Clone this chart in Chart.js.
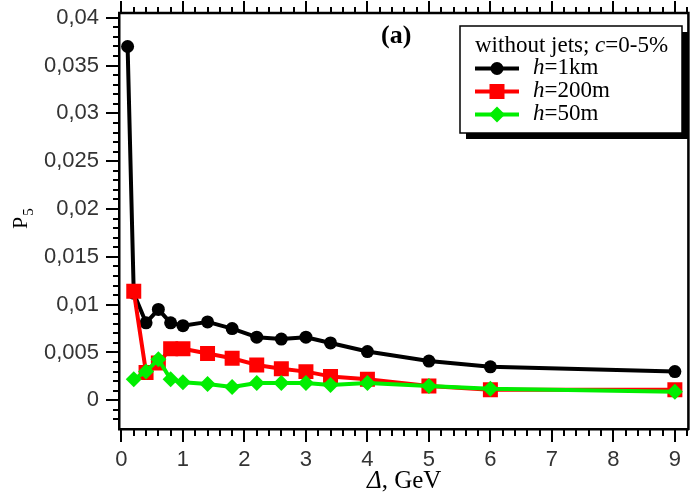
<!DOCTYPE html>
<html><head><meta charset="utf-8">
<script src="https://cdn.jsdelivr.net/npm/chart.js@4/dist/chart.umd.min.js"></script>
<style>html,body{margin:0;padding:0;background:#fff;} canvas{display:block;}</style>
</head><body>
<canvas id="c" width="699" height="496"></canvas>
<script>
// ---- data ----
const deltaH1km  = [0.1, 0.2, 0.4, 0.6, 0.8, 1.0, 1.4, 1.8, 2.2, 2.6, 3.0, 3.4, 4, 5, 6, 9];
const p5H1km     = [0.037, 0.0112, 0.0081, 0.0095, 0.0081, 0.0078, 0.0082, 0.0075, 0.0066, 0.0064, 0.0066, 0.0060, 0.0051, 0.0041, 0.0035, 0.0030];
const deltaH200m = [0.2, 0.4, 0.6, 0.8, 1.0, 1.4, 1.8, 2.2, 2.6, 3.0, 3.4, 4, 5, 6, 9];
const p5H200m    = [0.0114, 0.0029, 0.0039, 0.0054, 0.0054, 0.0049, 0.0044, 0.0037, 0.0033, 0.0030, 0.0025, 0.0022, 0.0015, 0.0011, 0.0011];
const deltaH50m  = [0.2, 0.4, 0.6, 0.8, 1.0, 1.4, 1.8, 2.2, 2.6, 3.0, 3.4, 4, 5, 6, 9];
const p5H50m     = [0.0022, 0.0030, 0.0043, 0.0022, 0.0019, 0.0017, 0.0014, 0.0018, 0.0018, 0.0018, 0.0016, 0.0018, 0.0015, 0.0012, 0.0009];

const yTickValues = [0, 0.005, 0.01, 0.015, 0.02, 0.025, 0.03, 0.035, 0.04];
const yTickLabels = ['0', '0,005', '0,01', '0,015', '0,02', '0,025', '0,03', '0,035', '0,04'];
const xTickValues = [0, 1, 2, 3, 4, 5, 6, 7, 8, 9];
const xTickLabels = ['0', '1', '2', '3', '4', '5', '6', '7', '8', '9'];
const seriesNames = ['h=1km', 'h=200m', 'h=50m'];
const legendTitle = ['without jets; ', 'c', '=0-5%'];
const panelLabel = '(a)';
const xTitle = ['\u0394', ', GeV'];
const yTitle = ['P', '5'];

const colors = ['#000000', '#ff0000', '#00ee00'];
const styles = ['circle', 'rect', 'rectRot'];

function pts(xs, ys) { return xs.map((x, i) => ({ x: x, y: ys[i] })); }

const SERIF = '"Liberation Serif", "DejaVu Serif", serif';
const SANS = '"Liberation Sans", Arial, sans-serif';

function drawMarker(ctx, style, x, y, color) {
  ctx.fillStyle = color;
  ctx.beginPath();
  if (style === 'circle') { ctx.arc(x, y, 6.5, 0, Math.PI * 2); }
  else if (style === 'rect') { ctx.rect(x - 7.5, y - 7.5, 15, 15); }
  else { ctx.moveTo(x, y - 8); ctx.lineTo(x + 8, y); ctx.lineTo(x, y + 8); ctx.lineTo(x - 8, y); ctx.closePath(); }
  ctx.fill();
}

const decor = {
  id: 'decor',
  afterDraw(chart) {
    const ctx = chart.ctx;
    const a = chart.chartArea;
    const xs = chart.scales.x, ys = chart.scales.y;
    ctx.save();
    // frame top & right
    ctx.strokeStyle = '#000';
    ctx.lineWidth = 2.5;
    ctx.beginPath();
    ctx.moveTo(a.left - 1, a.top); ctx.lineTo(a.right, a.top); ctx.lineTo(a.right, a.bottom + 1);
    ctx.stroke();
    // ticks
    ctx.lineWidth = 2;
    ctx.beginPath();
    for (let i = -3; i <= 40; i++) {
      const py = Math.round(ys.getPixelForValue(i / 1000)) + 0.0;
      if (py > a.bottom - 1 || py < a.top) continue;
      const len = (i % 5 === 0) ? 13 : 6;
      ctx.moveTo(a.left, py); ctx.lineTo(a.left - len, py);
    }
    for (let i = 0; i <= 46; i++) {
      const px = Math.round(xs.getPixelForValue(i / 5));
      if (px > a.right - 1 || px < a.left) continue;
      const major = (i % 5 === 0);
      ctx.moveTo(px, a.bottom); ctx.lineTo(px, a.bottom + (major ? 13 : 7));
      ctx.moveTo(px, a.top); ctx.lineTo(px, a.top - (major ? 12 : 6));
    }
    ctx.stroke();

    // panel label
    ctx.fillStyle = '#000';
    ctx.font = 'bold 26px ' + SERIF;
    ctx.textAlign = 'left';
    ctx.textBaseline = 'alphabetic';
    ctx.fillText(panelLabel, 381, 43);

    // legend box with shadow
    const bx = 460, by = 26, bw = 222, bh = 107;
    ctx.fillStyle = '#000';
    ctx.fillRect(bx + 6, by + 6, bw, bh);
    ctx.fillStyle = '#fff';
    ctx.fillRect(bx, by, bw, bh);
    ctx.strokeStyle = '#000';
    ctx.lineWidth = 1.5;
    ctx.strokeRect(bx, by, bw, bh);

    ctx.fillStyle = '#000';
    let tx = 475;
    const tb = 51.5;
    const LF = 23;
    ctx.font = LF + 'px ' + SERIF;
    ctx.fillText(legendTitle[0], tx, tb); tx += ctx.measureText(legendTitle[0]).width;
    ctx.font = 'italic ' + LF + 'px ' + SERIF;
    ctx.fillText(legendTitle[1], tx, tb); tx += ctx.measureText(legendTitle[1]).width;
    ctx.font = LF + 'px ' + SERIF;
    ctx.fillText(legendTitle[2], tx, tb);

    const rows = [68.5, 91.5, 114.5];
    for (let k = 0; k < 3; k++) {
      const ry = rows[k];
      ctx.strokeStyle = colors[k];
      ctx.lineWidth = 4;
      ctx.beginPath(); ctx.moveTo(475, ry); ctx.lineTo(519, ry); ctx.stroke();
      drawMarker(ctx, styles[k], 497, ry, colors[k]);
      ctx.fillStyle = '#000';
      let sx = 533;
      ctx.font = 'italic ' + LF + 'px ' + SERIF;
      const first = seriesNames[k].charAt(0), rest = seriesNames[k].slice(1);
      ctx.fillText(first, sx, ry + 5.5); sx += ctx.measureText(first).width;
      ctx.font = LF + 'px ' + SERIF;
      ctx.fillText(rest, sx, ry + 5.5);
    }

    // x title
    ctx.fillStyle = '#000';
    let xx = 367;
    ctx.font = 'italic 25px ' + SERIF;
    ctx.fillText(xTitle[0], xx, 488); xx += ctx.measureText(xTitle[0]).width;
    ctx.font = '25px ' + SERIF;
    ctx.fillText(xTitle[1], xx, 488);

    // y title
    ctx.save();
    ctx.translate(27, 229);
    ctx.rotate(-Math.PI / 2);
    ctx.font = '22px ' + SERIF;
    ctx.fillText(yTitle[0], 0, 0);
    const pw = ctx.measureText(yTitle[0]).width;
    ctx.font = '15px ' + SERIF;
    ctx.fillText(yTitle[1], pw + 1, 6);
    ctx.restore();

    ctx.restore();
  }
};

function noPad(s) { s.paddingTop = 0; s.paddingBottom = 0; s.paddingLeft = 0; s.paddingRight = 0; }

new Chart(document.getElementById('c').getContext('2d'), {
  type: 'line',
  data: {
    datasets: [
      { label: seriesNames[0], data: pts(deltaH1km, p5H1km), borderColor: colors[0], backgroundColor: colors[0],
        pointBackgroundColor: colors[0], borderWidth: 4, pointStyle: 'circle', pointRadius: 6.5, pointBorderWidth: 0, order: 3 },
      { label: seriesNames[1], data: pts(deltaH200m, p5H200m), borderColor: colors[1], backgroundColor: colors[1],
        pointBackgroundColor: colors[1], borderWidth: 4, pointStyle: 'rect', pointRadius: 10.6, pointBorderWidth: 0, order: 2 },
      { label: seriesNames[2], data: pts(deltaH50m, p5H50m), borderColor: colors[2], backgroundColor: colors[2],
        pointBackgroundColor: colors[2], borderWidth: 4, pointStyle: 'rectRot', pointRadius: 8, pointBorderWidth: 0, order: 1 }
    ]
  },
  options: {
    responsive: false,
    animation: false,
    devicePixelRatio: 1,
    layout: { padding: { top: 13, right: 4, left: 0, bottom: 0 } },
    elements: { line: { tension: 0, borderJoinStyle: 'round' } },
    plugins: { legend: { display: false }, tooltip: { enabled: false } },
    scales: {
      x: {
        type: 'linear', min: -0.04, max: 9.22,
        afterBuildTicks: s => { s.ticks = xTickValues.map(v => ({ value: v })); },
        ticks: { callback: (v, i) => xTickLabels[i], font: { family: SANS, size: 22 }, color: '#333', padding: 18, maxRotation: 0, autoSkip: false },
        grid: { display: false, drawTicks: false },
        border: { display: true, color: '#000', width: 2.5 },
        afterFit: s => { s.height = 67; noPad(s); }
      },
      y: {
        type: 'linear', min: -0.003, max: 0.0405,
        afterBuildTicks: s => { s.ticks = yTickValues.map(v => ({ value: v })); },
        ticks: { callback: (v, i) => yTickLabels[i], font: { family: SANS, size: 22 }, color: '#333', padding: 20, autoSkip: false },
        grid: { display: false, drawTicks: false },
        border: { display: true, color: '#000', width: 2.5 },
        afterFit: s => { s.width = 119; noPad(s); }
      }
    }
  },
  plugins: [decor]
});
</script>
</body></html>
